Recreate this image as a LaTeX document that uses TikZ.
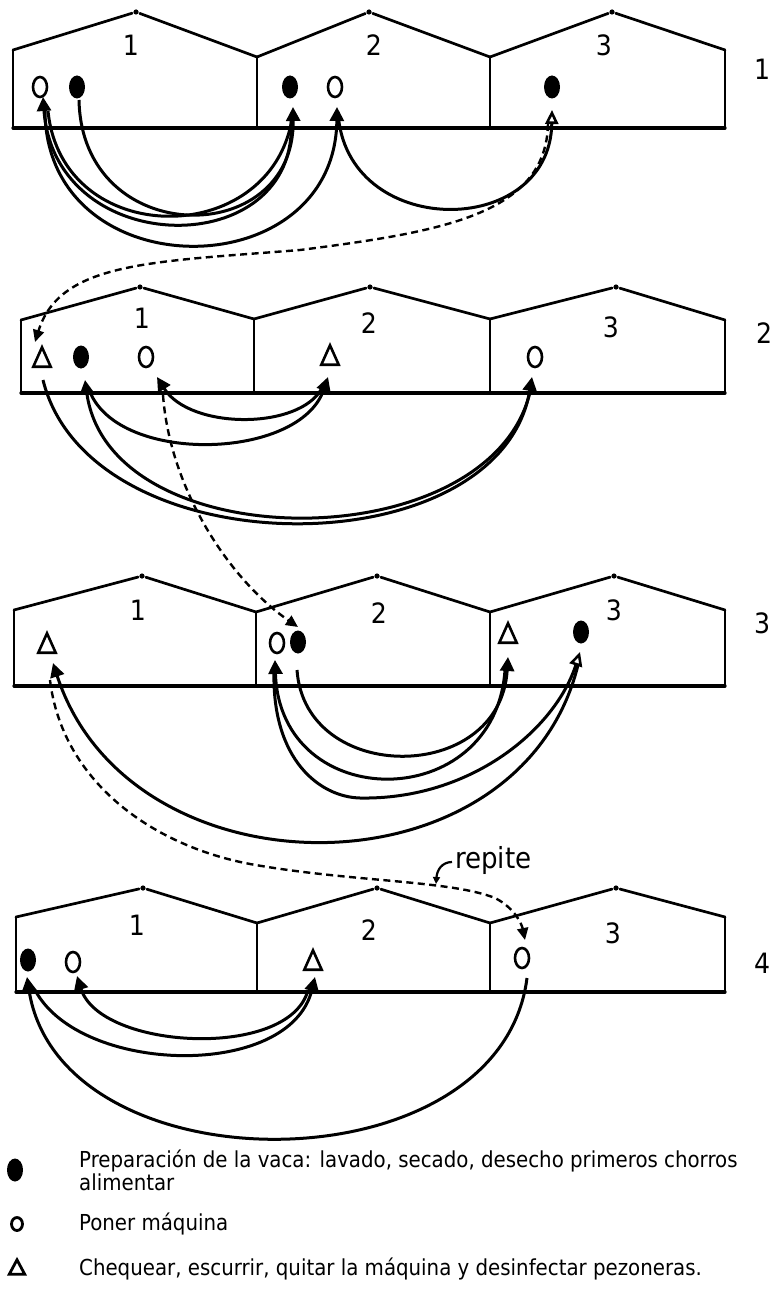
\documentclass[tikz,border=0pt]{standalone}
\usepackage{fontspec}
\setmainfont{DejaVu Sans Condensed}
\usetikzlibrary{arrows.meta,shapes.geometric,calc}

% one row of three stalls: #1 left x, #2 outer wall top, #3 valley y,
% #4 floor y, #5 apex y, #6-#8 apex x, #9 first valley x
\newcommand\barnrow[9]{%
  \draw[wall] (#1,#4) -- (#1,#2);
  \draw[wall, shorten >=4pt] (#1,#2) -- (#6,#5);
  \draw[wall, shorten <=4pt] (#6,#5) -- (#9,#3);
  \draw[wall, shorten >=4pt] (#9,#3) -- (#7,#5);
  \draw[wall, shorten <=4pt] (#7,#5) -- (490,#3);
  \draw[wall, shorten >=4pt] (490,#3) -- (#8,#5);
  \draw[wall, shorten <=4pt] (#8,#5) -- (725,#2);
  \draw[wall] (725,#2) -- (725,#4);
  \draw[wall] (#9,#3) -- (#9,#4);
  \draw[wall] (490,#3) -- (490,#4);
  \fill (#6,#5) circle (2.6pt) (#7,#5) circle (2.6pt) (#8,#5) circle (2.6pt);
  \draw[floorline] (#1,#4) -- (725,#4);
}
% triangle marker (check / strip / remove unit)
\newcommand\trisym[3]{%
  \node[tbox] (#1) at (#2,#3) {};
  \draw[tline] (#1.south west) -- (#1.north) -- (#1.south east) -- cycle;
}

\begin{document}
\begin{tikzpicture}[x=1pt,y=-1pt,
  wall/.style={line width=2.7pt, line cap=round, line join=round},
  floorline/.style={line width=3.2pt, line cap=round},
  conn/.style={line width=3pt, -{Triangle[length=14pt,width=14pt]}},
  plain/.style={line width=3pt},
  connopen/.style={line width=3pt, -{Triangle[open,length=14pt,width=13pt,line width=2.6pt]}},
  linkdash/.style={line width=2.4pt, dash pattern=on 7pt off 4.5pt, -{Triangle[length=12pt,width=11pt]}},
  osym/.style={draw, ellipse, line width=2.6pt, minimum width=14pt, minimum height=20pt, inner sep=0pt},
  psym/.style={fill, ellipse, minimum width=16pt, minimum height=23pt, inner sep=0pt},
  tbox/.style={inner sep=0pt, minimum width=17pt, minimum height=19pt},
  tline/.style={line width=2.6pt, line join=miter},
  numlabel/.style={font=\fontsize{28}{28}\selectfont, inner sep=0pt},
  legendtext/.style={font=\fontsize{22}{16.5}\selectfont, anchor=base west, inner sep=0pt}
]
\useasboundingbox (0,0) rectangle (772,1289);

% ---------- stalls ----------
\barnrow{13}{50}{57}{128}{12}{136}{369}{612}{257}
\barnrow{21}{320}{319}{393}{287}{140}{370}{616}{254}
\barnrow{14}{610}{612}{686}{576}{142}{377}{614}{256}
\barnrow{16}{917}{923}{992}{888}{143}{377}{616}{257}

% stall numbers
\foreach \x/\y/\t in {131/45/1, 374/45/2, 604/45/3,
                      142/318/1, 369/323/2, 611/327/3,
                      138/610/1, 379/613/2, 614/610/3,
                      137/925/1, 369/930/2, 613/933/3}
  \node[numlabel] at (\x,\y) {\t};
% step numbers
\node[numlabel] (step1) at (762,69) {1};
\node[numlabel] (step2) at (764,333) {2};
\node[numlabel] (step3) at (762,623) {3};
\node[numlabel] (step4) at (762,963) {4};

% ---------- step 1 ----------
\node[osym] (r1o1) at (40,87) {};
\node[psym] (r1p1) at (77,87) {};
\node[psym] (r1p2) at (290,87) {};
\node[osym] (r1o2) at (335,87) {};
\node[psym] (r1p3) at (552,87) {};

\draw[conn] ($(r1p1)+(2,13)$) .. controls (82,250) and (295,250) .. ($(r1p2)+(3,20)$);
\draw[plain] ($(r1o1)+(8,24)$) .. controls (62,250) and (270,250) .. ($(r1p2)+(2,32)$);
\draw[conn] ($(r1p2)+(1,33)$) .. controls (300,262) and (55,262) .. ($(r1o1)+(3,10)$);
\draw[conn] ($(r1o1)+(5,23)$) .. controls (45,290) and (335,290) .. ($(r1o2)+(2,20)$);
\draw[connopen] ($(r1o2)+(3,25)$) .. controls (345,240) and (550,240) .. ($(r1p3)+(0,23)$);

% ---------- step 2 ----------
\trisym{r2t1}{42}{357}
\node[psym] (r2p1) at (81,357) {};
\node[osym] (r2o1) at (146,357) {};
\trisym{r2t2}{330}{355}
\node[osym] (r2o3) at (535,357) {};

\draw[linkdash] ($(r1p3)+(-4,37)$) .. controls (546,215) and (440,232) .. (300,250)
  .. controls (150,262) and (60,262) .. ($(r2t1)+(-7,-15)$);

\draw[conn] ($(r2t1)+(1,23)$) .. controls (90,570) and (500,570) .. ($(r2o3)+(-3,20)$);
\draw[conn] ($(r2o3)+(-5,35)$) .. controls (490,560) and (110,560) .. ($(r2p1)+(4,23)$);
\draw[conn] ($(r2p1)+(9,35)$) .. controls (120,465) and (300,460) .. ($(r2t2)+(-2,22)$);
\draw[conn] ($(r2t2)+(-8,33)$) .. controls (300,430) and (190,430) .. ($(r2o1)+(11,20)$);

% ---------- step 3 ----------
\trisym{r3t1}{47}{643}
\node[osym] (r3o2) at (277,643) {};
\node[psym] (r3p2) at (298,642) {};
\trisym{r3t3}{508}{633}
\node[psym] (r3p3) at (581,632) {};

\draw[linkdash] ($(r2o1)+(17,38)$) .. controls (170,490) and (230,580) .. ($(r3p2)+(0,-15)$);

\draw[conn] ($(r3p2)+(-1,28)$) .. controls (305,785) and (500,785) .. ($(r3t3)+(0,24)$);
\draw[conn] ($(r3t3)+(-3,37)$) .. controls (495,815) and (280,815) .. ($(r3o2)+(-2,17)$);
\draw[connopen] ($(r3o2)+(-3,29)$) .. controls (272,760) and (320,797) .. (360,798)
  .. controls (470,800) and (555,730) .. ($(r3p3)+(-1,20)$);
\draw[conn] ($(r3p3)+(-3,33)$) .. controls (520,900) and (130,900) .. ($(r3t1)+(6,20)$);

% ---------- step 4 ----------
\node[psym] (r4p1) at (28,960) {};
\node[osym] (r4o1) at (73,962) {};
\trisym{r4t2}{313}{960}
\node[osym] (r4o3) at (522,958) {};

\draw[linkdash] ($(r3t1)+(3,37)$) .. controls (62,780) and (150,845) .. (250,864)
  .. controls (350,882) and (450,880) .. (495,898)
  .. controls (515,908) and (522,925) .. ($(r4o3)+(3,-18)$);

\node[font=\fontsize{29}{29}\selectfont, anchor=west, inner sep=0pt] (rep) at (455,860) {repite};
\coordinate (repend) at (436,884);
\draw[line width=2.2pt, -{Triangle[length=7pt,width=7pt]}]
  ($(rep.west)+(-3,2)$) .. controls (442,862) and (437,870) .. (repend);

\draw[conn] ($(r4o3)+(5,20)$) .. controls (500,1191) and (60,1191) .. ($(r4p1)+(-1,17)$);
\draw[conn] ($(r4p1)+(7,30)$) .. controls (80,1075) and (290,1080) .. ($(r4t2)+(2,17)$);
\draw[conn] ($(r4t2)+(-5,30)$) .. controls (290,1060) and (100,1050) .. ($(r4o1)+(4,14)$);

% ---------- key ----------
\node[psym] (keyp) at (15,1170) {};
\node[legendtext, align=left] (keyptext) at (79,1190)
  {Preparación de la vaca: lavado, secado, desecho primeros chorros\\alimentar};
\node[draw, ellipse, line width=2.8pt, minimum width=11pt, minimum height=13pt, inner sep=0pt] (keyo) at (17,1224) {};
\node[legendtext] (keyotext) at (79,1230) {Poner máquina};
\node[inner sep=0pt, minimum width=15pt, minimum height=14pt] (keyt) at (17,1267) {};
\draw[line width=2.8pt, line join=miter] (keyt.south west) -- (keyt.north) -- (keyt.south east) -- cycle;
\node[legendtext] (keyttext) at (79,1275) {Chequear, escurrir, quitar la máquina y desinfectar pezoneras.};
\end{tikzpicture}
\end{document}
